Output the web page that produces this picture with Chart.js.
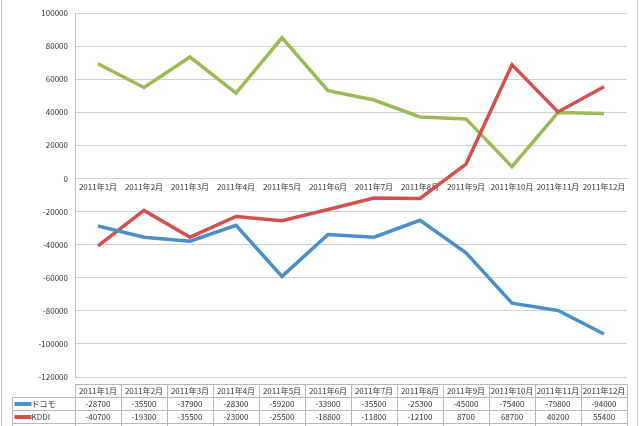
<!DOCTYPE html>
<html>
<head>
<meta charset="utf-8">
<script src="https://cdn.jsdelivr.net/npm/chart.js@4/dist/chart.umd.min.js"></script>
<style>
  html, body { margin: 0; padding: 0; background: #fff; }
</style>
</head>
<body>
<canvas id="chart" width="639" height="426"></canvas>
<script>
var months = ['2011年1月', '2011年2月', '2011年3月', '2011年4月', '2011年5月', '2011年6月',
              '2011年7月', '2011年8月', '2011年9月', '2011年10月', '2011年11月', '2011年12月'];
var docomo = [-28700, -35500, -37900, -28300, -59200, -33900, -35500, -25300, -45000, -75400, -79800, -94000];
var kddi = [-40700, -19300, -35500, -23000, -25500, -18800, -11800, -12100, 8700, 68700, 40200, 55400];
// third row of the table is cut off in the picture
var softbank = [69300, 55000, 73400, 51600, 85000, 53000, 47400, 37200, 36000, 7100, 39800, 39200];
var seriesNames = ['ドコモ', 'KDDI', 'ソフトバンク'];
var seriesColors = ['#4a8fc9', '#d4504c', '#9bbb59'];
var yMin = -120000, yMax = 100000, yStep = 20000;

var fontFamily = '"Noto Sans CJK JP", "Liberation Sans", sans-serif';
var gridColor = '#d0d0d0';

// draws the Excel style data table under the plot, plus the outer frame
var dataTable = {
  id: 'dataTable',
  afterDraw: function(chart) {
    var ctx = chart.ctx;
    var x = chart.scales.x;
    var area = chart.chartArea;
    var colW = x.getPixelForValue(1) - x.getPixelForValue(0);
    var top = area.bottom + 7.5;
    var rowH = 13;
    var keyLeft = 12.5;
    var rows = chart.data.datasets.length;

    ctx.save();
    ctx.strokeStyle = '#b8b8b8';
    ctx.lineWidth = 1;
    ctx.beginPath();
    // header row top
    ctx.moveTo(area.left, top);
    ctx.lineTo(area.right, top);
    for (var r = 1; r <= rows + 1; r++) {
      ctx.moveTo(keyLeft, top + r * rowH);
      ctx.lineTo(area.right, top + r * rowH);
    }
    ctx.moveTo(keyLeft, top + rowH);
    ctx.lineTo(keyLeft, top + (rows + 1) * rowH);
    for (var i = 0; i <= months.length; i++) {
      var cx = Math.round(x.getPixelForValue(i) - colW / 2) + 0.5;
      ctx.moveTo(cx, top);
      ctx.lineTo(cx, top + (rows + 1) * rowH);
    }
    ctx.stroke();

    ctx.font = '8px ' + fontFamily;
    ctx.fillStyle = '#333';
    ctx.textAlign = 'center';
    ctx.textBaseline = 'middle';
    months.forEach(function(m, i) {
      ctx.fillText(m, x.getPixelForValue(i), top + rowH / 2);
    });
    chart.data.datasets.forEach(function(ds, r) {
      var cy = top + (r + 1) * rowH + rowH / 2;
      ds.data.forEach(function(v, i) {
        ctx.textAlign = 'center';
        ctx.fillText(String(v), x.getPixelForValue(i), cy);
      });
      ctx.strokeStyle = ds.borderColor;
      ctx.lineWidth = 4;
      ctx.beginPath();
      ctx.moveTo(keyLeft + 2, cy);
      ctx.lineTo(keyLeft + 19, cy);
      ctx.stroke();
      ctx.textAlign = 'left';
      ctx.fillText(ds.label, keyLeft + 19, cy);
    });

    // chart frame
    ctx.strokeStyle = '#c8c8c8';
    ctx.lineWidth = 1;
    ctx.beginPath();
    ctx.moveTo(1.5, 0);
    ctx.lineTo(1.5, chart.height);
    ctx.moveTo(637.5, 0);
    ctx.lineTo(637.5, chart.height);
    ctx.stroke();
    ctx.restore();
  }
};

var datasets = [docomo, kddi, softbank].map(function(values, i) {
  return {
    label: seriesNames[i],
    data: values,
    borderColor: seriesColors[i],
    backgroundColor: seriesColors[i],
    borderWidth: 3.5,
    pointRadius: 0,
    tension: 0,
    fill: false
  };
});

new Chart(document.getElementById('chart'), {
  type: 'line',
  data: { labels: months, datasets: datasets },
  options: {
    responsive: false,
    animation: false,
    layout: { padding: { left: 0, top: 13, right: 12, bottom: 49 } },
    plugins: {
      legend: { display: false },
      tooltip: { enabled: false }
    },
    scales: {
      x: {
        position: { y: 0 },
        offset: true,
        grid: { display: false, drawTicks: false },
        border: { display: true, color: gridColor },
        ticks: {
          color: '#333',
          font: { family: fontFamily, size: 8 },
          maxRotation: 0,
          autoSkip: false,
          padding: 4
        }
      },
      y: {
        min: yMin,
        max: yMax,
        grid: { color: gridColor, drawTicks: false },
        border: { display: true, color: '#bbbbbb' },
        ticks: {
          stepSize: yStep,
          color: '#333',
          font: { family: fontFamily, size: 8 },
          padding: 7,
          callback: function(v) { return String(v); }
        },
        afterFit: function(scale) { scale.width = 75; }
      }
    }
  },
  plugins: [dataTable]
});
</script>
</body>
</html>
